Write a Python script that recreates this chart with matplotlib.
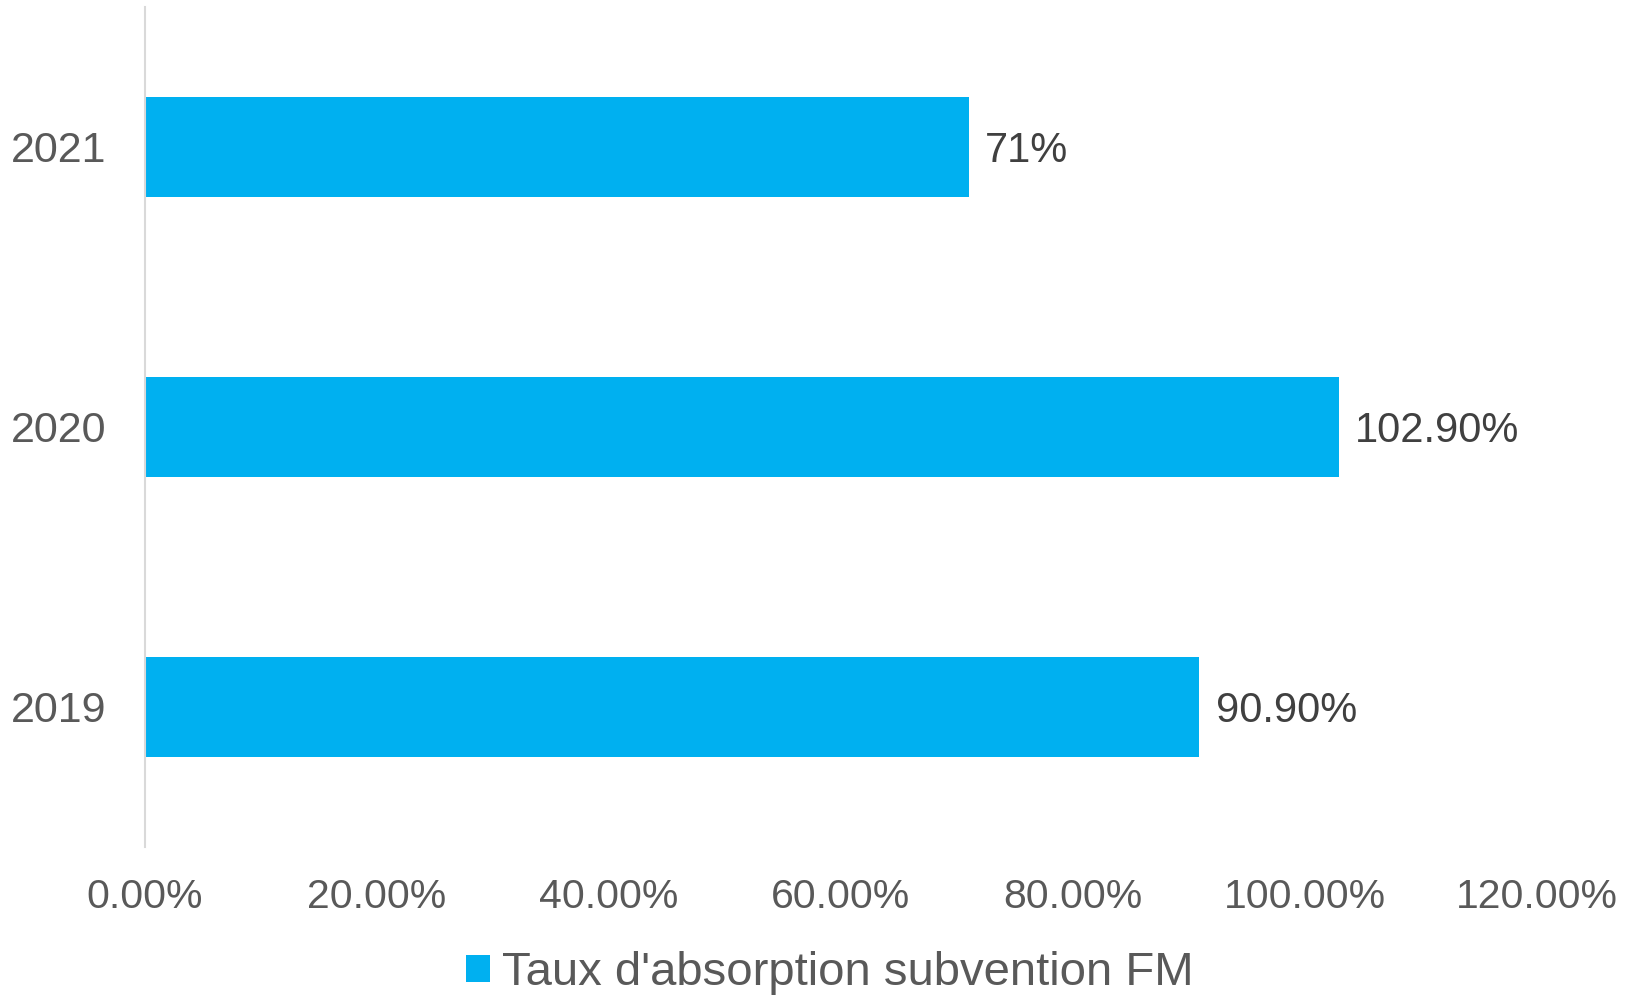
import matplotlib
matplotlib.use("Agg")
import matplotlib.pyplot as plt
from matplotlib.patches import Patch
from matplotlib.ticker import FuncFormatter
from matplotlib.transforms import offset_copy

plt.rcParams['font.family'] = ['Liberation Sans', 'DejaVu Sans']

# Data
years = ["2019", "2020", "2021"]
rates = [0.909, 1.029, 0.71]
value_labels = ["90.90%", "102.90%", "71%"]
x_ticks = [0.0, 0.2, 0.4, 0.6, 0.8, 1.0, 1.2]
series_name = "Taux d'absorption subvention FM"

bar_color = "#00B0F0"
tick_color = "#595959"
label_color = "#404040"

fig = plt.figure(figsize=(16.4, 9.97), dpi=100)
ax = fig.add_axes([0.0884, 0.1505, 0.8488, 0.8425])

pos = list(range(len(years)))
bars = ax.barh(pos, rates, height=0.357, color=bar_color)

ax.set_ylim(-0.5, len(years) - 0.5)
ax.set_xlim(0, 1.2)
ax.set_yticks(pos)
ax.set_yticklabels(years)
ax.set_xticks(x_ticks)
ax.xaxis.set_major_formatter(FuncFormatter(lambda v, _: f"{v * 100:.2f}%"))

ax.tick_params(axis='x', length=0, labelsize=29.5, labelcolor=tick_color, pad=22)
ax.tick_params(axis='y', length=0, labelsize=31, labelcolor=tick_color, pad=28)

for side in ("top", "right", "bottom"):
    ax.spines[side].set_visible(False)
ax.spines["left"].set_color("#D9D9D9")
ax.spines["left"].set_linewidth(1.5)

# Value labels beside each bar end
label_trans = offset_copy(ax.transData, fig=fig, x=12, y=-3, units='points')
for p, v, txt in zip(pos, rates, value_labels):
    ax.text(v, p, txt, transform=label_trans, ha='left', va='center',
            fontsize=30, color=label_color)

handle = Patch(facecolor=bar_color, edgecolor='none')
fig.legend([handle], [series_name], loc='center',
           bbox_to_anchor=(830 / 1640, 1 - 973 / 997),
           frameon=False, fontsize=34, labelcolor=tick_color,
           handlelength=0.5, handleheight=0.5, handletextpad=0.25,
           borderaxespad=0, borderpad=0)

fig.savefig("out.png", dpi=100, facecolor="white")
